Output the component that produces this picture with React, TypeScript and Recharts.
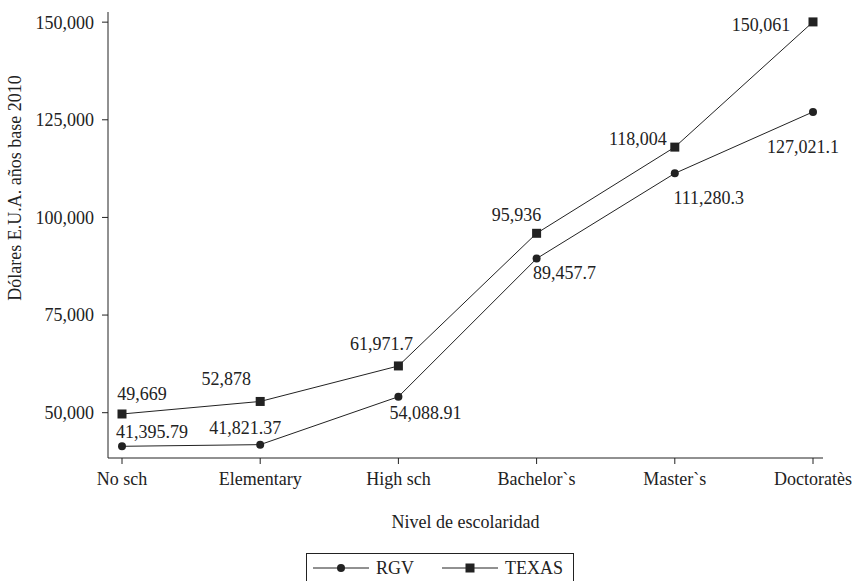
import { LineChart, Line, XAxis, YAxis, Legend, LabelList } from "recharts";

const categories = ["No sch", "Elementary", "High sch", "Bachelor`s", "Master`s", "Doctoratès"];
const rgv = [41395.79, 41821.37, 54088.91, 89457.7, 111280.3, 127021.1];
const texas = [49669, 52878, 61971.7, 95936, 118004, 150061];
const yTicks = [50000, 75000, 100000, 125000, 150000];

const data = categories.map((c, i) => ({ cat: c, rgv: rgv[i], texas: texas[i] }));

const INK = "#222";
const FONT = "'Liberation Serif', 'DejaVu Serif', serif";

// label placement (dx to text centre, dy to baseline) per point
const rgvLabelPos = [[30, -8], [-15, -11], [27, 22], [28, 20], [34, 31], [-10, 41]];
const texasLabelPos = [[20, -14], [-34, -16], [-17, -16], [-20, -12], [-37, -2], [-52, 9]];

const fmt = (v: number) => v.toLocaleString("en-US", { maximumFractionDigits: 2 });

function makeLabel(pos: number[][]) {
  return (p: any) => {
    const [dx, dy] = pos[p.index] || [0, -10];
    return (
      <text x={p.x + dx} y={p.y + dy} textAnchor="middle" fontSize={18} fontFamily={FONT} fill={INK}>
        {fmt(p.value)}
      </text>
    );
  };
}

function SquareDot(p: any) {
  if (p.cx == null) return null;
  return <rect x={p.cx - 4.5} y={p.cy - 4.5} width={9} height={9} fill={INK} />;
}

function YLabel() {
  const cx = 21;
  const cy = 188;
  return (
    <text x={cx} y={cy} transform={`rotate(-90 ${cx} ${cy})`} textAnchor="middle" fontSize={18} fontFamily={FONT} fill={INK}>
      Dólares E.U.A. años base 2010
    </text>
  );
}

function LegendBox() {
  const item = (name: string, square: boolean) => (
    <div style={{ display: "flex", alignItems: "center", marginRight: 28 }}>
      <svg width={56} height={12}>
        <line x1={0} y1={6} x2={56} y2={6} stroke={INK} strokeWidth={1} />
        {square ? <rect x={23.5} y={1.5} width={9} height={9} fill={INK} /> : <circle cx={28} cy={6} r={4} fill={INK} />}
      </svg>
      <span style={{ marginLeft: 7 }}>{name}</span>
    </div>
  );
  return (
    <div style={{ width: 268, height: 34, border: `1px solid ${INK}`, boxSizing: "border-box", display: "flex", alignItems: "flex-start", paddingTop: 5, paddingLeft: 6, fontFamily: FONT, fontSize: 18, color: INK, lineHeight: "18px" }}>
      {item("RGV", false)}
      {item("TEXAS", true)}
    </div>
  );
}

export default function App() {
  return (
    <div style={{ position: "absolute", left: 0, top: 0, background: "#fff" }}>
      <LineChart width={859} height={581} data={data} margin={{ top: 12, right: 36, left: 0, bottom: 48 }}>
        <XAxis
          dataKey="cat"
          padding={{ left: 14, right: 10 }}
          tickSize={6}
          tickMargin={8}
          height={75}
          stroke={INK}
          tick={{ fill: INK, fontSize: 18, fontFamily: FONT }}
          interval={0}
          label={{ value: "Nivel de escolaridad", position: "insideBottom", offset: 5, fill: INK, fontSize: 18, fontFamily: FONT }}
        />
        <YAxis
          width={108}
          domain={[38400, 152600]}
          ticks={yTicks}
          tickSize={6}
          tickMargin={8}
          stroke={INK}
          tick={{ fill: INK, fontSize: 18, fontFamily: FONT }}
          tickFormatter={(v) => v.toLocaleString("en-US")}
          label={<YLabel />}
        />
        <Legend
          layout="horizontal"
          verticalAlign="middle"
          align="center"
          content={() => <LegendBox />}
          wrapperStyle={{ position: "absolute", top: 553, left: 306, width: 268 }}
        />
        <Line dataKey="rgv" name="RGV" stroke={INK} strokeWidth={1} dot={{ r: 4, fill: INK, stroke: "none" }} isAnimationActive={false}>
          <LabelList dataKey="rgv" content={makeLabel(rgvLabelPos)} />
        </Line>
        <Line dataKey="texas" name="TEXAS" stroke={INK} strokeWidth={1} dot={<SquareDot />} isAnimationActive={false}>
          <LabelList dataKey="texas" content={makeLabel(texasLabelPos)} />
        </Line>
      </LineChart>
    </div>
  );
}
